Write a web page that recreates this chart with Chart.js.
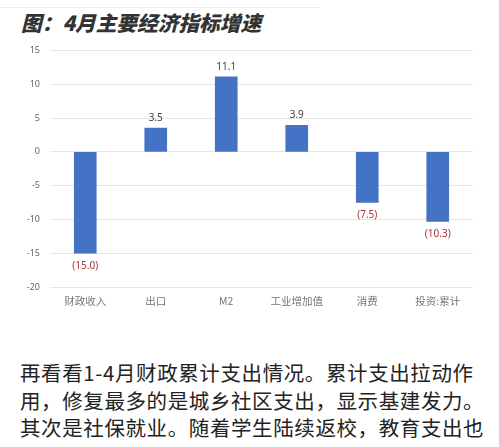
<!DOCTYPE html>
<html>
<head>
<meta charset="utf-8">
<script src="https://cdn.jsdelivr.net/npm/chart.js@4"></script>
<style>
  body { margin: 0; background: #fff; width: 499px; height: 447px; overflow: hidden; position: relative; font-family: "Noto Sans CJK SC", "Noto Sans", sans-serif; }
  #sep { position: absolute; left: 0; top: 7px; width: 320px; height: 1px; background: #ececec; }
  #title { position: absolute; left: 21px; top: 7px; font-size: 20.7px; font-weight: 900; font-style: italic; color: #333; white-space: nowrap; }
  #box { position: absolute; left: 0; top: 35px; width: 499px; height: 277px; }
  #text { position: absolute; left: 20px; top: 359px; font-size: 20.5px; line-height: 27.5px; letter-spacing: 0.6px; color: #222; white-space: nowrap; }
</style>
</head>
<body>
<div id="sep"></div>
<div id="title">图：4月主要经济指标增速</div>
<div id="box"><canvas id="myChart"></canvas></div>
<div id="text">再看看1-4月财政累计支出情况。累计支出拉动作<br>用，修复最多的是城乡社区支出，显示基建发力。<br>其次是社保就业。随着学生陆续返校，教育支出也</div>
<script>
var categories = ['财政收入', '出口', 'M2', '工业增加值', '消费', '投资:累计'];
var growth = [-15.0, 3.5, 11.1, 3.9, -7.5, -10.3];
var yTicks = [15, 10, 5, 0, -5, -10, -15, -20];

// value labels, negatives shown in brackets like the original
var valueLabels = {
    id: 'valueLabels',
    afterDatasetsDraw: function(chart) {
        var ctx = chart.ctx;
        var meta = chart.getDatasetMeta(0);
        ctx.save();
        ctx.font = '10px "Noto Sans", sans-serif';
        ctx.textAlign = 'center';
        ctx.textBaseline = 'middle';
        meta.data.forEach(function(bar, i) {
            var v = growth[i];
            if (v >= 0) {
                ctx.fillStyle = '#404040';
                ctx.fillText(v.toFixed(1), bar.x, bar.y - 10);
            } else {
                ctx.fillStyle = '#a83434';
                ctx.fillText('(' + Math.abs(v).toFixed(1) + ')', bar.x, bar.y + 13);
            }
        });
        ctx.restore();
    }
};

var ctx = document.getElementById('myChart').getContext('2d');
var myChart = new Chart(ctx, {
    type: 'bar',
    data: {
        labels: categories,
        datasets: [{
            data: growth,
            backgroundColor: '#4472c4',
            borderWidth: 0,
            barThickness: 22
        }]
    },
    options: {
        responsive: true,
        maintainAspectRatio: false,
        animation: false,
        layout: { padding: { left: 0, right: 26, top: 5, bottom: 0 } },
        plugins: { legend: { display: false }, tooltip: { enabled: false } },
        scales: {
            x: {
                grid: { display: false, drawTicks: false },
                border: { display: false },
                ticks: { color: '#777', font: { size: 10.5, family: '"Noto Sans CJK SC", sans-serif' }, padding: 8 },
                afterFit: function(scale) { scale.height = 25; }
            },
            y: {
                min: -20,
                max: 15,
                afterBuildTicks: function(scale) {
                    scale.ticks = yTicks.map(function(v) { return { value: v }; });
                },
                grid: { color: '#e6e6e6', drawTicks: false },
                border: { display: false },
                ticks: { color: '#666', font: { size: 9, family: '"Noto Sans", sans-serif' }, padding: 10 },
                afterFit: function(scale) { scale.width = 50; }
            }
        }
    },
    plugins: [valueLabels]
});
</script>
</body>
</html>
